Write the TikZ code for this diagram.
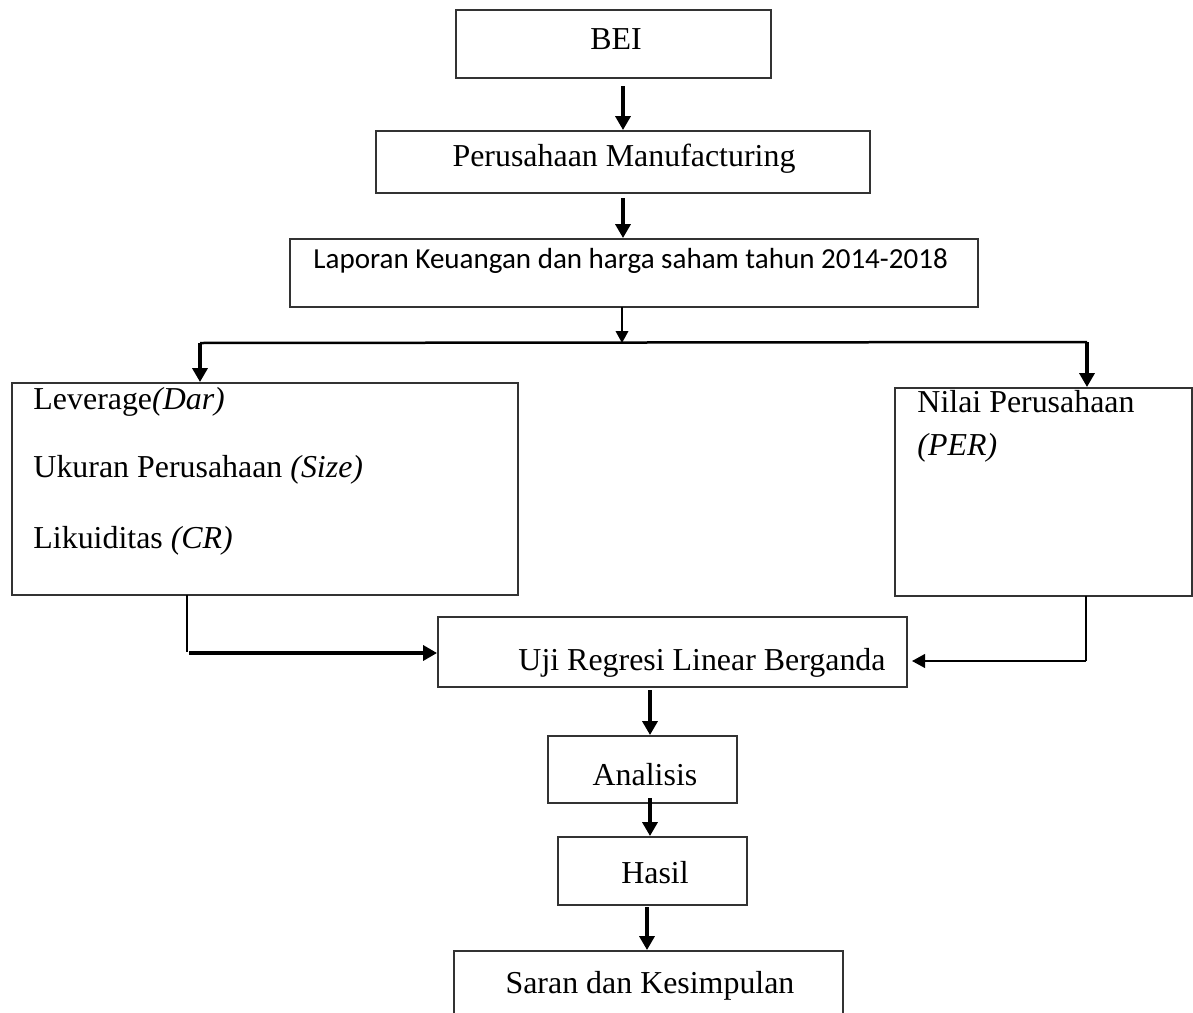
\documentclass[tikz,border=0pt]{standalone}
\usepackage{fontspec}
\setmainfont{Liberation Serif}
\newfontfamily\calibri{Carlito}
\usetikzlibrary{arrows.meta,fit}
\begin{document}
\begin{tikzpicture}[x=0.42pt,y=-0.42pt,
  box/.style={draw=black!80, line width=0.85pt, inner sep=0pt},
  txt/.style={font=\fontsize{13.4}{16}\selectfont, inner sep=0pt},
  arr/.style={line width=1.3pt, -{Triangle[length=5.8pt,width=6.3pt]}},
  arrs/.style={line width=0.9pt, -{Triangle[length=5pt,width=5.2pt]}},
  ln/.style={line width=1.05pt},
  lnthin/.style={line width=0.75pt}]
\useasboundingbox (0,0) rectangle (1193,1013);
\clip (0,0) rectangle (1193,1013);
\fill[white] (0,0) rectangle (1193,1013);

% boxes
\node[box, fit={(456,10) (771,78)}] (bei) {};
\node[box, fit={(376,131) (870,193)}] (pm) {};
\node[box, fit={(290,239) (978,307)}] (lap) {};
\node[box, fit={(12,383) (518,595)}] (var) {};
\node[box, fit={(895,388) (1192,596)}] (nil) {};
\node[box, fit={(438,617) (907,687)}] (uji) {};
\node[box, fit={(548,736) (737,803)}] (ana) {};
\node[box, fit={(558,837) (747,905)}] (has) {};
\node[box, fit={(454,951) (843,1040)}] (sar) {};

% texts
\node[txt, anchor=base] (beit) at (616,49) {BEI};
\node[txt, anchor=base] (pmt) at (624,166) {Perusahaan Manufacturing};
\node[txt, anchor=base west, font=\calibri\fontsize{12.2}{14}\selectfont] (lapt) at (313,268) {Laporan Keuangan dan harga saham tahun 2014-2018};
\node[txt, anchor=base west] (v1) at (33,409) {Leverage\textit{(Dar)}};
\node[txt, anchor=base west] (v2) at (33,477) {Ukuran Perusahaan \textit{(Size)}};
\node[txt, anchor=base west] (v3) at (33,548) {Likuiditas \textit{(CR)}};
\node[txt, anchor=base west] (n1) at (917,412) {Nilai Perusahaan};
\node[txt, anchor=base west] (n2) at (917,455) {\textit{(PER)}};
\node[txt, anchor=base west] (ujit) at (518,670) {Uji Regresi Linear Berganda};
\node[txt, anchor=base] (anat) at (645,785) {Analisis};
\node[txt, anchor=base] (hast) at (655,883) {Hasil};
\node[txt, anchor=base] (sart) at (650,993) {Saran dan Kesimpulan};

% connectors
\coordinate (c1) at (623,86);
\draw[arr] (c1) -- (c1 |- pm.north);
\coordinate (c2) at (623,198);
\draw[arr] (c2) -- (c2 |- lap.north);
\coordinate (hl) at (200,343);
\coordinate (hr) at (1087,342);
\coordinate (c3) at (622,307);
\draw[arrs] (c3) -- (c3 |- hl);
\draw[ln] (hl) -- (hr);
\draw[arr] (hl) -- (hl |- var.north);
\draw[arr] (hr) -- (hr |- nil.north);

\coordinate (l1) at (187,595);
\coordinate (l2) at (187,652);
\coordinate (l3) at (189,653);
\draw[lnthin] (l1) -- (l2);
\draw[arr] (l3) -- (l3 -| uji.west);

\coordinate (r1) at (1086,596);
\coordinate (r2) at (1086,661);
\coordinate (r3) at (912,661);
\draw[lnthin] (r1) -- (r2);
\draw[lnthin, -{Triangle[length=5.5pt,width=5.8pt]}] (r2) -- (r3);

\coordinate (c4) at (650,690);
\draw[arr] (c4) -- (c4 |- ana.north);
\coordinate (c5) at (650,798);
\draw[arr] (c5) -- (c5 |- has.north);
\coordinate (c6) at (647,907);
\draw[arr] (c6) -- (c6 |- sar.north);
\end{tikzpicture}
\end{document}
